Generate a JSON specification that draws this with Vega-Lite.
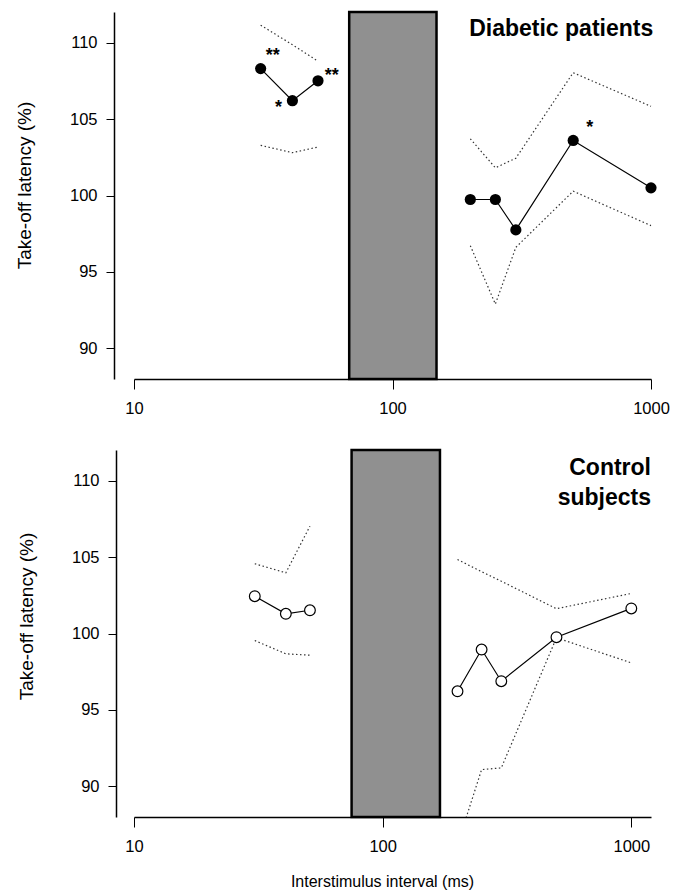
{
  "$schema": "https://vega.github.io/schema/vega-lite/v6.json",
  "padding": {"left": 15, "top": 10, "right": 5, "bottom": 5},
  "spacing": 31,
  "align": "none",
  "config": {
    "view": {"stroke": null},
    "font": "Liberation Sans",
    "axis": {
      "grid": false,
      "domainColor": "black",
      "tickColor": "black",
      "labelColor": "black",
      "titleColor": "black",
      "labelFont": "Liberation Sans",
      "titleFont": "Liberation Sans",
      "labelFontSize": 16.5,
      "titleFontWeight": "normal",
      "domainWidth": 1.5,
      "tickWidth": 1
    }
  },
  "datasets": {
    "diabetic": [
      {"g": "a", "isi": 30.9, "mean": 108.3, "upper": 111.14, "lower": 103.28},
      {"g": "a", "isi": 41, "mean": 106.2, "upper": 109.86, "lower": 102.8},
      {"g": "a", "isi": 51.5, "mean": 107.5, "upper": 108.78, "lower": 103.17},
      {"g": "b", "isi": 200, "mean": 99.74, "upper": 103.71, "lower": 96.72},
      {"g": "b", "isi": 250, "mean": 99.74, "upper": 101.81, "lower": 92.9},
      {"g": "b", "isi": 300, "mean": 97.75, "upper": 102.44, "lower": 96.61},
      {"g": "b", "isi": 500, "mean": 103.6, "upper": 108.03, "lower": 100.28},
      {"g": "b", "isi": 1000, "mean": 100.5, "upper": 105.83, "lower": 98.03}
    ],
    "control": [
      {"g": "a", "isi": 30.6, "mean": 102.44, "upper": 104.56, "lower": 99.54},
      {"g": "a", "isi": 40.8, "mean": 101.29, "upper": 103.97, "lower": 98.67},
      {"g": "a", "isi": 51, "mean": 101.52, "upper": 107.02, "lower": 98.58},
      {"g": "b", "isi": 200, "mean": 96.22, "upper": 104.84, "lower": 86.2},
      {"g": "b", "isi": 250, "mean": 98.95, "upper": 104.04, "lower": 91.1},
      {"g": "b", "isi": 300, "mean": 96.88, "upper": 103.42, "lower": 91.21},
      {"g": "b", "isi": 500, "mean": 99.76, "upper": 101.62, "lower": 99.72},
      {"g": "b", "isi": 1000, "mean": 101.64, "upper": 102.62, "lower": 98.08}
    ],
    "stars": [
      {"isi": 34.4, "y": 109.39, "s": "**"},
      {"isi": 36.2, "y": 106.0, "s": "*"},
      {"isi": 58.2, "y": 108.08, "s": "**"},
      {"isi": 579.6, "y": 104.69, "s": "*"}
    ]
  },
  "vconcat": [
    {
      "width": 517,
      "height": 367,
      "layer": [
        {
          "data": {"values": [{"start": 68, "end": 148}]},
          "mark": {"type": "rect", "fill": "#909090", "stroke": "black", "strokeWidth": 2.5},
          "encoding": {
            "x": {
              "field": "start", "type": "quantitative",
              "scale": {"type": "log", "domain": [10, 1000], "nice": false},
              "axis": {"values": [10, 100, 1000], "format": "d", "title": null, "tickSize": 10, "labelPadding": 11, "labelFlush": false, "labelOverlap": false}
            },
            "x2": {"field": "end"},
            "y": {
              "datum": 88, "type": "quantitative",
              "scale": {"domain": [88, 112], "nice": false, "zero": false},
              "axis": {"values": [90, 95, 100, 105, 110], "title": "Take-off latency (%)", "titleFontSize": 19, "offset": 20, "tickSize": 8, "labelPadding": 9, "titlePadding": 35, "titleY": 173}
            },
            "y2": {"datum": 112}
          }
        },
        {
          "data": {"name": "diabetic"},
          "mark": {"type": "line", "color": "#333", "strokeDash": [1.5, 2.5], "strokeWidth": 1.2},
          "encoding": {"x": {"field": "isi", "type": "quantitative"}, "y": {"field": "upper", "type": "quantitative"}, "detail": {"field": "g"}}
        },
        {
          "data": {"name": "diabetic"},
          "mark": {"type": "line", "color": "#333", "strokeDash": [1.5, 2.5], "strokeWidth": 1.2},
          "encoding": {"x": {"field": "isi", "type": "quantitative"}, "y": {"field": "lower", "type": "quantitative"}, "detail": {"field": "g"}}
        },
        {
          "data": {"name": "diabetic"},
          "mark": {"type": "line", "color": "black", "strokeWidth": 1.2},
          "encoding": {"x": {"field": "isi", "type": "quantitative"}, "y": {"field": "mean", "type": "quantitative"}, "detail": {"field": "g"}}
        },
        {
          "data": {"name": "diabetic"},
          "mark": {"type": "point", "shape": "circle", "filled": true, "color": "black", "size": 125, "opacity": 1},
          "encoding": {"x": {"field": "isi", "type": "quantitative"}, "y": {"field": "mean", "type": "quantitative"}}
        },
        {
          "data": {"name": "stars"},
          "mark": {"type": "text", "fontSize": 18, "fontWeight": "bold", "baseline": "middle", "dy": 4, "color": "black"},
          "encoding": {"x": {"field": "isi", "type": "quantitative"}, "y": {"field": "y", "type": "quantitative"}, "text": {"field": "s"}}
        },
        {
          "data": {"values": [{"label": "Diabetic patients"}]},
          "mark": {"type": "text", "fontSize": 23, "fontWeight": "bold", "align": "right", "baseline": "middle", "color": "black"},
          "encoding": {"x": {"datum": 1020}, "y": {"datum": 110.92}, "text": {"field": "label"}}
        }
      ]
    },
    {
      "width": 517,
      "height": 367,
      "layer": [
        {
          "data": {"values": [{"start": 75, "end": 170}]},
          "mark": {"type": "rect", "fill": "#909090", "stroke": "black", "strokeWidth": 2.5},
          "encoding": {
            "x": {
              "field": "start", "type": "quantitative",
              "scale": {"type": "log", "domain": [10, 1200], "nice": false},
              "axis": {"values": [10, 100, 1000], "format": "d", "title": "Interstimulus interval (ms)", "titleFontSize": 16, "titlePadding": 19, "titleX": 248, "tickSize": 10, "labelPadding": 11, "labelFlush": false, "labelOverlap": false}
            },
            "x2": {"field": "end"},
            "y": {
              "datum": 88, "type": "quantitative",
              "scale": {"domain": [88, 112], "nice": false, "zero": false},
              "axis": {"values": [90, 95, 100, 105, 110], "title": "Take-off latency (%)", "titleFontSize": 19, "offset": 18, "tickSize": 8, "labelPadding": 9, "titlePadding": 35, "titleY": 166}
            },
            "y2": {"datum": 112}
          }
        },
        {
          "data": {"name": "control"},
          "mark": {"type": "line", "color": "#333", "strokeDash": [1.5, 2.5], "strokeWidth": 1.2, "clip": true},
          "encoding": {"x": {"field": "isi", "type": "quantitative"}, "y": {"field": "upper", "type": "quantitative"}, "detail": {"field": "g"}}
        },
        {
          "data": {"name": "control"},
          "mark": {"type": "line", "color": "#333", "strokeDash": [1.5, 2.5], "strokeWidth": 1.2, "clip": true},
          "encoding": {"x": {"field": "isi", "type": "quantitative"}, "y": {"field": "lower", "type": "quantitative"}, "detail": {"field": "g"}}
        },
        {
          "data": {"name": "control"},
          "mark": {"type": "line", "color": "black", "strokeWidth": 1.2},
          "encoding": {"x": {"field": "isi", "type": "quantitative"}, "y": {"field": "mean", "type": "quantitative"}, "detail": {"field": "g"}}
        },
        {
          "data": {"name": "control"},
          "mark": {"type": "point", "shape": "circle", "filled": true, "fill": "white", "stroke": "black", "strokeWidth": 1.2, "size": 115, "opacity": 1},
          "encoding": {"x": {"field": "isi", "type": "quantitative"}, "y": {"field": "mean", "type": "quantitative"}}
        },
        {
          "data": {"values": [{"label": ["Control", "subjects"]}]},
          "mark": {"type": "text", "fontSize": 23, "fontWeight": "bold", "align": "right", "baseline": "middle", "lineHeight": 30, "color": "black"},
          "encoding": {"x": {"datum": 1200}, "y": {"datum": 110.83}, "text": {"field": "label"}}
        }
      ]
    }
  ]
}
